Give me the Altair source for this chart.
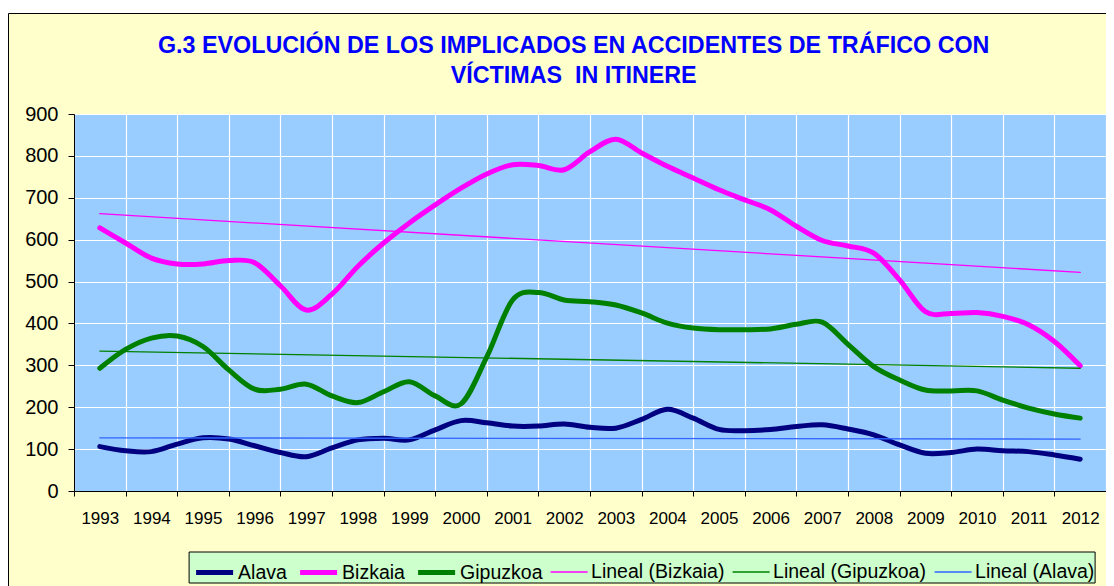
import altair as alt
import pandas as pd

# ---- data (semi-annual points, 1993 .. 2012) ----
half_years = [1993.0, 1993.5, 1994.0, 1994.5, 1995.0, 1995.5, 1996.0, 1996.5, 1997.0, 1997.5,
              1998.0, 1998.5, 1999.0, 1999.5, 2000.0, 2000.5, 2001.0, 2001.5, 2002.0, 2002.5,
              2003.0, 2003.5, 2004.0, 2004.5, 2005.0, 2005.5, 2006.0, 2006.5, 2007.0, 2007.5,
              2008.0, 2008.5, 2009.0, 2009.5, 2010.0, 2010.5, 2011.0, 2011.5, 2012.0]

alava = [106, 96, 94, 112, 127, 124, 108, 92, 82, 103,
         122, 126, 122, 146, 168, 163, 155, 155, 160, 152,
         150, 171, 195, 174, 147, 144, 147, 154, 158, 148,
         134, 110, 90, 92, 100, 96, 94, 86, 76]

bizkaia = [628, 592, 556, 542, 542, 550, 545, 490, 432, 470,
           536, 592, 640, 683, 723, 757, 779, 777, 767, 810,
           840, 807, 775, 747, 719, 695, 671, 632, 598, 585,
           568, 504, 428, 424, 426, 417, 397, 357, 299]

gipuzkoa = [293, 338, 365, 370, 345, 289, 243, 243, 255, 227,
            211, 237, 261, 227, 208, 320, 456, 474, 456, 452,
            444, 425, 401, 389, 385, 385, 387, 398, 403, 350,
            297, 265, 241, 239, 239, 217, 198, 184, 174]

trend_x = [1993.0, 2012.0]
trend_bizkaia = [662, 522]
trend_gipuzkoa = [334, 293]
trend_alava = [127, 124]

year_labels = [str(y) for y in range(1993, 2013)]
boundaries = [1992.5 + k for k in range(21)]
y_ticks = [0, 100, 200, 300, 400, 500, 600, 700, 800, 900]

series_order = ["Alava", "Bizkaia", "Gipuzkoa",
                "Lineal (Bizkaia)", "Lineal (Gipuzkoa)", "Lineal (Alava)"]
series_colors = ["#000080", "#FF00FF", "#008000", "#FF00FF", "#008000", "#3366FF"]
series_widths = [5, 5, 5, 1.3, 1.3, 1.3]

rows = []
for name, vals in [("Alava", alava), ("Bizkaia", bizkaia), ("Gipuzkoa", gipuzkoa)]:
    for x, v in zip(half_years, vals):
        rows.append({"serie": name, "x": x, "v": v})
for name, vals in [("Lineal (Bizkaia)", trend_bizkaia), ("Lineal (Gipuzkoa)", trend_gipuzkoa),
                   ("Lineal (Alava)", trend_alava)]:
    for x, v in zip(trend_x, vals):
        rows.append({"serie": name, "x": x, "v": v})
df = pd.DataFrame(rows)

FONT = "Liberation Sans"
W, H = 1032, 377

leg = alt.Legend(
    title=None, orient="none", legendX=114.6, legendY=437.5, direction="horizontal",
    fillColor="#CCFFCC", strokeColor="black", padding=0,
    symbolType="stroke", symbolSize=1369, symbolOffset=5,
    labelOffset=2.5, columnPadding=2, labelFontSize=19.5, labelFont=FONT,
    labelColor="black", labelLimit=400,
)

lines = alt.Chart(df).mark_line(interpolate="cardinal", strokeJoin="round", strokeCap="round").encode(
    x=alt.X("x:Q",
            scale=alt.Scale(domain=[1992.5, 2012.5], nice=False, zero=False),
            axis=alt.Axis(values=boundaries, title=None, grid=True, gridColor="white", gridWidth=1.2,
                          tickSize=5, tickColor="black", domainColor="black",
                          labelExpr="datum.value < 2012 ? toString(datum.value + 0.5) : ''",
                          labelOffset=W / 40, labelFlush=False, labelOverlap=False, labelBound=False,
                          labelFont=FONT, labelFontSize=17, labelColor="black", labelPadding=14)),
    y=alt.Y("v:Q",
            scale=alt.Scale(domain=[0, 900], nice=False),
            axis=alt.Axis(values=y_ticks, title=None, grid=True, gridColor="white", gridWidth=1.2,
                          tickSize=6, tickColor="black", domainColor="black",
                          labelFont=FONT, labelFontSize=20, labelColor="black", labelPadding=10,
                          labelFlush=False)),
    color=alt.Color("serie:N", scale=alt.Scale(domain=series_order, range=series_colors), legend=leg),
    strokeWidth=alt.StrokeWidth("serie:N",
                                scale=alt.Scale(type="ordinal", domain=series_order, range=series_widths),
                                legend=leg),
)

dummy = alt.Data(values=[{"a": 1}])
white_strip = alt.Chart(dummy).mark_rect(color="white").encode(
    x=alt.value(-80), x2=alt.value(1200), y=alt.value(-106), y2=alt.value(-101))
top_border = alt.Chart(dummy).mark_rule(color="black", strokeWidth=1).encode(
    x=alt.value(-65.5), x2=alt.value(1200), y=alt.value(-100.5))
left_border = alt.Chart(dummy).mark_rule(color="black", strokeWidth=1).encode(
    x=alt.value(-65.5), y=alt.value(-100.5), y2=alt.value(600))

chart = alt.layer(white_strip, top_border, left_border, lines).properties(
    width=W, height=H,
    padding={"left": 66, "top": 106, "right": 0, "bottom": 95},
    autosize=alt.AutoSizeParams(type="none"),
    title=alt.TitleParams(
        text=["G.3 EVOLUCIÓN DE LOS IMPLICADOS EN ACCIDENTES DE TRÁFICO CON",
              "VÍCTIMAS\u00a0 IN ITINERE"],
        font=FONT, fontSize=23.3, fontWeight="bold", color="#0000FF", baseline="alphabetic",
        anchor="middle", frame="group", offset=-98.5, dx=-16.3, lineHeight=30.7),
).configure(background="#FFFFCC").configure_view(fill="#99CCFF", stroke="#808080", strokeWidth=1)

chart.save("out.html", embed_options={"renderer": "svg", "actions": False})
